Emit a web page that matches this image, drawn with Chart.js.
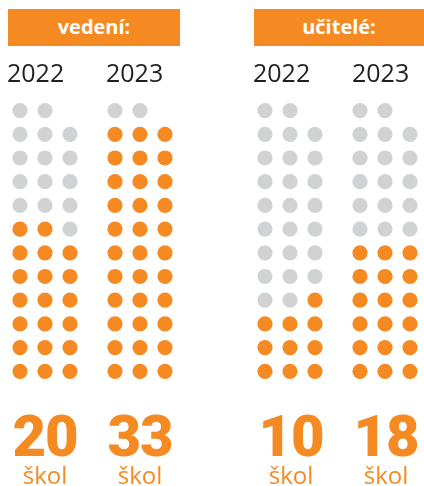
<!DOCTYPE html>
<html lang="cs">
<head>
<meta charset="utf-8">
<script src="https://cdn.jsdelivr.net/npm/chart.js@4"></script>
<style>
    body { margin: 0; background: #fff; }
    #wrap { position: relative; width: 424px; height: 486px; overflow: hidden; font-family: "Open Sans", sans-serif; }
    #dots { position: absolute; left: 0; top: 0; }
    .box { position: absolute; top: 9px; height: 37px; background: #f58a23; color: #fff; font-weight: 700; font-size: 20px; line-height: 36px; text-align: center; }
    .rok { position: absolute; top: 55px; font-size: 25px; color: #231f20; line-height: 34px; }
    .cislo { position: absolute; top: 402px; width: 100px; margin-left: -50px; text-align: center; color: #f58a23; font-family: Roboto, sans-serif; font-weight: 900; font-size: 58px; line-height: 68px; letter-spacing: -1px; }
    .skol { position: absolute; top: 459px; width: 100px; margin-left: -50px; text-align: center; color: #f58a23; font-size: 24px; line-height: 32px; }
</style>
</head>
<body>
<div id="wrap">
    <canvas id="dots" width="424" height="486"></canvas>
    <div class="box" style="left:8px;width:172px">vedení:</div>
    <div class="box" style="left:254px;width:170px">učitelé:</div>
    <div class="rok" style="left:7px">2022</div>
    <div class="rok" style="left:106px">2023</div>
    <div class="rok" style="left:253px">2022</div>
    <div class="rok" style="left:352px">2023</div>
    <div id="popisky"></div>
</div>
<script>
// data
const skupiny = ["vedení", "učitelé"];
const roky = ["2022", "2023"];
const pocetSkol = [20, 33, 10, 18];       // vedení 2022, vedení 2023, učitelé 2022, učitelé 2023
const celkem = 35;                          // 11 řad po 3 + horní řada 2
const doplnitZprava = [false, false, true, false]; // neúplná řada začíná zprava?

const oranzova = "#f58a23";
const seda = "#d1d2d4";
const stredy = [45, 140, 291, 386];

function sestavBody() {
    const plne = [];
    const prazdne = [];
    pocetSkol.forEach((hodnota, i) => {
        const sk = Math.floor(i / 2);
        const rk = i % 2;
        const posun = sk * 9.8 + rk * 3.8;
        // seznam pozic od spodu, řada po řadě
        const pozice = [];
        for (let r = 0; r < 12; r++) {
            const sloupce = r === 11 ? [0, 1] : [0, 1, 2];
            pozice.push(sloupce.map(c => ({ x: posun + c, y: r })));
        }
        let zbyva = hodnota;
        pozice.forEach(rada => {
            let poradi = rada.slice();
            if (zbyva < rada.length && doplnitZprava[i]) poradi.reverse();
            poradi.forEach(b => {
                if (zbyva > 0) { plne.push(b); zbyva--; }
                else prazdne.push(b);
            });
        });
    });
    return { plne, prazdne };
}

const { plne, prazdne } = sestavBody();

new Chart(document.getElementById("dots"), {
    type: "scatter",
    data: {
        datasets: [
            { label: "škol", data: plne, backgroundColor: oranzova, pointRadius: 7.6, borderWidth: 0 },
            { label: "zbytek", data: prazdne, backgroundColor: seda, pointRadius: 7.6, borderWidth: 0 }
        ]
    },
    options: {
        responsive: false,
        animation: false,
        events: [],
        layout: { padding: 0, autoPadding: false },
        plugins: { legend: { display: false }, tooltip: { enabled: false } },
        scales: {
            x: { type: "linear", display: false, min: -0.8, max: 16.16 },
            y: { type: "linear", display: false, min: -4.84, max: 15.666 }
        }
    }
});

// čísla pod tečkami
const popisky = document.getElementById("popisky");
pocetSkol.forEach((hodnota, i) => {
    popisky.innerHTML += `<div class="cislo" style="left:${stredy[i]}px">${hodnota}</div>
        <div class="skol" style="left:${stredy[i]}px">škol</div>`;
});
</script>
</body>
</html>
